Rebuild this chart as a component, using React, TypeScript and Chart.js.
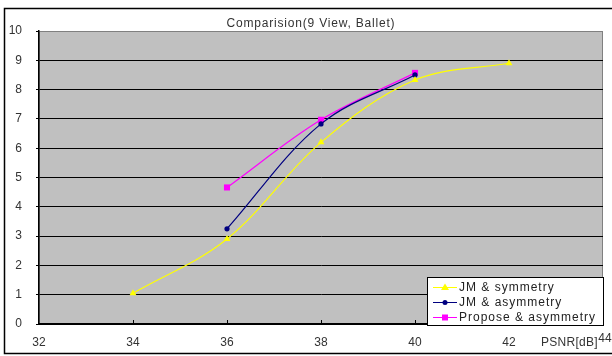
import React, { useEffect, useRef } from "react";
import { Chart, registerables } from "chart.js";

Chart.register(...registerables);

const TITLE = "Comparision(9 View, Ballet)";
const X_TITLE = "PSNR[dB]";
const SERIES_NAMES = ["JM & symmetry", "JM & asymmetry", "Propose & asymmetry"];

const xSym = [34, 36, 38, 40, 42];
const ySym = [1.05, 2.9, 6.2, 8.33, 8.9];

const xAsym = [36, 38, 40];
const yJMAsym = [3.25, 6.83, 8.5];
const yProposeAsym = [4.66, 6.97, 8.57];

const X_MIN = 32;
const X_MAX = 44;

const COLORS = ["#FFFF00", "#000080", "#FF00FF"];
const POINT_STYLES = ["triangle", "circle", "rect"] as const;
const POINT_RADII = [4, 2.6, 4.3];

const FONT = "'Liberation Sans', Arial, sans-serif";

const bgPlugin = {
  id: "bgPlugin",
  beforeDraw(chart: any) {
    const { ctx, chartArea: a } = chart;
    ctx.save();
    ctx.fillStyle = "#ffffff";
    ctx.fillRect(0, 0, chart.width, chart.height);
    ctx.strokeStyle = "#000";
    ctx.lineWidth = 1.5;
    ctx.beginPath();
    ctx.moveTo(612, 8.5);
    ctx.lineTo(4.5, 8.5);
    ctx.lineTo(4.5, 353.5);
    ctx.lineTo(612, 353.5);
    ctx.stroke();
    ctx.fillStyle = "#C0C0C0";
    ctx.fillRect(a.left, a.top, a.right - a.left, a.bottom - a.top);
    ctx.strokeStyle = "#808080";
    ctx.lineWidth = 1;
    ctx.strokeRect(a.left + 0.5, a.top + 0.5, a.right - a.left - 1, a.bottom - a.top);
    ctx.restore();
  },
};

const overlayPlugin = {
  id: "overlayPlugin",
  afterDraw(chart: any) {
    const { ctx, chartArea: a } = chart;
    const xs = chart.scales.x;
    ctx.save();
    ctx.strokeStyle = "#000";
    ctx.lineWidth = 1;
    for (let v = X_MIN + 2; v < X_MAX; v += 2) {
      const px = Math.round(xs.getPixelForValue(v)) + 0.5;
      ctx.beginPath();
      ctx.moveTo(px, a.bottom);
      ctx.lineTo(px, a.bottom - 4);
      ctx.stroke();
    }
    (ctx as any).letterSpacing = "0.8px";
    ctx.fillStyle = "#333";
    ctx.font = `12px ${FONT}`;
    ctx.textAlign = "center";
    ctx.textBaseline = "middle";
    ctx.fillText(TITLE, 311, 24);
    (ctx as any).letterSpacing = "0.3px";
    ctx.textAlign = "right";
    ctx.fillText(X_TITLE, 598, 343);
    (ctx as any).letterSpacing = "0px";
    ctx.textAlign = "center";
    ctx.fillText(String(X_MAX), xs.getPixelForValue(X_MAX) + 2, 339);

    const lx = 427, ly = 277, lw = 176, lh = 48;
    ctx.fillStyle = "#fff";
    ctx.fillRect(lx, ly, lw, lh);
    ctx.strokeStyle = "#000";
    ctx.lineWidth = 1;
    ctx.strokeRect(lx + 0.5, ly + 0.5, lw, lh);
    (ctx as any).letterSpacing = "1px";
    SERIES_NAMES.forEach((name, i) => {
      const cy = 287 + i * 15;
      ctx.strokeStyle = COLORS[i];
      ctx.lineWidth = 1;
      ctx.beginPath();
      ctx.moveTo(433, cy + 0.5);
      ctx.lineTo(457, cy + 0.5);
      ctx.stroke();
      ctx.fillStyle = COLORS[i];
      ctx.beginPath();
      if (i === 0) {
        ctx.moveTo(445, cy - 3.5);
        ctx.lineTo(449, cy + 3);
        ctx.lineTo(441, cy + 3);
        ctx.closePath();
      } else if (i === 1) {
        ctx.arc(445, cy + 0.5, 2.5, 0, Math.PI * 2);
      } else {
        ctx.rect(442, cy - 2.5, 6, 6);
      }
      ctx.fill();
      ctx.fillStyle = "#222";
      ctx.textAlign = "left";
      ctx.textBaseline = "middle";
      ctx.fillText(name, 459, cy + 1);
    });
    ctx.restore();
  },
};

export default function App() {
  const ref = useRef<HTMLCanvasElement | null>(null);

  useEffect(() => {
    const canvas = ref.current;
    if (!canvas) return;
    const mk = (xs: number[], ys: number[]) => xs.map((x, i) => ({ x, y: ys[i] }));
    const allData = [mk(xSym, ySym), mk(xAsym, yJMAsym), mk(xAsym, yProposeAsym)];
    const chart = new Chart(canvas, {
      type: "line",
      data: {
        datasets: SERIES_NAMES.map((name, i) => ({
          label: name,
          data: allData[i],
          borderColor: COLORS[i],
          backgroundColor: COLORS[i],
          borderWidth: 1.2,
          pointStyle: POINT_STYLES[i],
          pointRadius: POINT_RADII[i],
          pointBorderWidth: 0,
          pointBackgroundColor: COLORS[i],
          tension: 0.35,
          fill: false,
        })),
      },
      options: {
        responsive: false,
        animation: false,
        events: [],
        layout: { padding: { left: 0, right: 9, top: 31, bottom: 0 } },
        plugins: {
          legend: { display: false },
          title: { display: false },
          tooltip: { enabled: false },
        },
        scales: {
          x: {
            type: "linear",
            min: X_MIN,
            max: X_MAX,
            afterFit: (s: any) => {
              s.height = 32;
              s.paddingLeft = 0;
              s.paddingRight = 0;
            },
            ticks: {
              stepSize: 2,
              color: "#333",
              font: { family: FONT, size: 12 },
              padding: 11,
              maxRotation: 0,
              callback: (v: any) => (v === X_MAX ? "" : String(v)),
            },
            grid: { display: false, drawTicks: false },
            border: { display: true, color: "#000", width: 2 },
          },
          y: {
            type: "linear",
            min: 0,
            max: 10,
            afterFit: (s: any) => {
              s.width = 39;
              s.paddingTop = 0;
              s.paddingBottom = 0;
            },
            ticks: {
              stepSize: 1,
              color: "#333",
              font: { family: FONT, size: 12 },
              padding: 14,
            },
            grid: {
              color: (c: any) => (c.tick && c.tick.value === 10 ? "#808080" : "#000"),
              lineWidth: 1,
              tickLength: 3,
              tickColor: "#000",
            },
            border: { display: true, color: "#000", width: 1.5 },
          },
        },
      },
      plugins: [bgPlugin, overlayPlugin],
    });
    return () => chart.destroy();
  }, []);

  return (
    <div style={{ position: "absolute", left: 0, top: 0, width: 612, height: 356 }}>
      <canvas ref={ref} width={612} height={356} style={{ display: "block", width: 612, height: 356 }} />
    </div>
  );
}
